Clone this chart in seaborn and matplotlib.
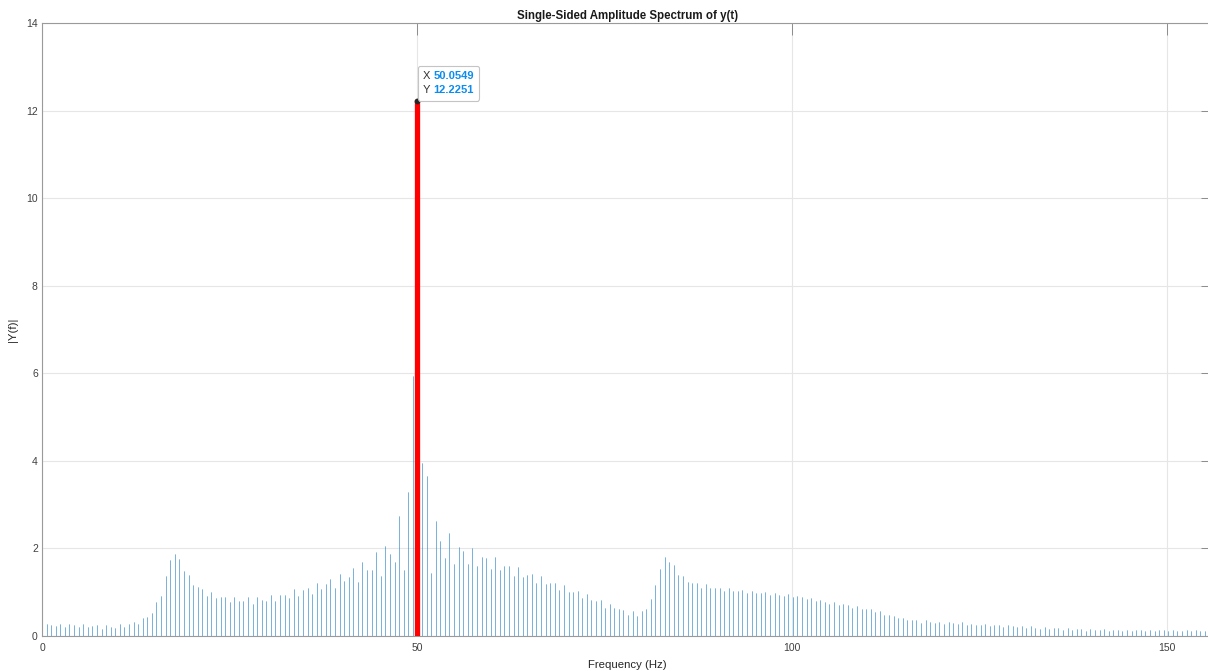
import numpy as np
import pandas as pd
import matplotlib
matplotlib.use("Agg")
import matplotlib.pyplot as plt
import seaborn as sns
from matplotlib.offsetbox import TextArea, HPacker, VPacker, AnnotationBbox

# Single-sided amplitude spectrum |Y(f)|, one value per FFT bin (bins 0..254)
peak_freq = 50.0549
peak_amp = 12.2251
bin_width = peak_freq / 82

amplitude = [
    0.20, 0.28, 0.25, 0.23, 0.28, 0.20, 0.27, 0.25, 0.20, 0.27,
    0.20, 0.23, 0.25, 0.16, 0.25, 0.21, 0.18, 0.27, 0.21, 0.27,
    0.32, 0.28, 0.42, 0.44, 0.53, 0.77, 0.92, 1.37, 1.73, 1.87,
    1.75, 1.49, 1.40, 1.16, 1.13, 1.07, 0.92, 1.00, 0.86, 0.88,
    0.89, 0.77,
    0.88, 0.80, 0.80, 0.88, 0.74, 0.88, 0.82, 0.80,
    0.94, 0.80, 0.94, 0.94, 0.86, 1.07, 0.91, 1.05, 1.09, 0.97,
    1.22, 1.07, 1.18, 1.30, 1.10, 1.42, 1.26, 1.34, 1.56, 1.23,
    1.68, 1.50, 1.50, 1.91, 1.38, 2.05, 1.88, 1.68, 2.74, 1.50,
    3.28, 5.94,
    12.2251,
    3.95, 3.66, 1.45, 2.62, 2.18, 1.78, 2.36,
    1.64, 2.03, 1.94, 1.64, 2.02, 1.60, 1.80, 1.77, 1.53, 1.80,
    1.51, 1.60, 1.60, 1.38, 1.58, 1.35, 1.39, 1.42, 1.22, 1.37,
    1.18, 1.20, 1.22, 1.04, 1.16, 1.01, 1.00, 1.02, 0.86, 0.96,
    0.82, 0.80,
    0.82, 0.65, 0.74, 0.63, 0.61, 0.60, 0.48, 0.58, 0.46,
    0.58, 0.61, 0.84, 1.16, 1.54, 1.80, 1.70, 1.62, 1.39, 1.37,
    1.24, 1.20, 1.20, 1.10, 1.18, 1.09, 1.09, 1.09, 1.02, 1.09,
    1.03, 1.03, 1.06, 0.98, 1.03, 0.98, 0.98, 1.01, 0.93, 0.98,
    0.93,
    0.91, 0.95, 0.88, 0.91, 0.88, 0.84, 0.87, 0.79,
    0.82, 0.78, 0.74, 0.78, 0.70, 0.72, 0.70, 0.65, 0.68, 0.61,
    0.61, 0.61, 0.54, 0.56, 0.49, 0.49, 0.46, 0.40, 0.42, 0.36,
    0.36, 0.36, 0.30, 0.36, 0.32, 0.30, 0.33, 0.27, 0.32, 0.30,
    0.27, 0.32, 0.26, 0.27, 0.26,
    0.25, 0.27, 0.23, 0.24, 0.25, 0.21, 0.25, 0.23, 0.21, 0.23,
    0.18, 0.22, 0.18, 0.16, 0.21, 0.16, 0.18, 0.18, 0.14, 0.18,
    0.14, 0.16, 0.16, 0.12, 0.16, 0.14, 0.14, 0.16, 0.11, 0.14,
    0.14, 0.11, 0.14, 0.11, 0.14, 0.14, 0.11, 0.14, 0.11, 0.14,
    0.14, 0.12, 0.14, 0.11, 0.12, 0.14, 0.11, 0.14, 0.12, 0.12,
]

x_ticks = [0, 50, 100, 150]
y_ticks = [0, 2, 4, 6, 8, 10, 12, 14]

# Each stem is a two-point vertical segment from 0 up to the bin amplitude
bins = np.arange(len(amplitude))
freq = bins * bin_width
stems = pd.DataFrame({
    "bin": np.repeat(bins, 2),
    "f": np.repeat(freq, 2),
    "amp": np.column_stack([np.zeros(len(amplitude)), amplitude]).ravel(),
})
peak = pd.DataFrame({"f": [peak_freq, peak_freq], "amp": [0.0, peak_amp]})

sns.set_theme(style="white")
plt.rcParams["font.family"] = ["Liberation Sans", "DejaVu Sans"]

W, H = 1208, 671
fig = plt.figure(figsize=(W / 100, H / 100), dpi=100)
# the plotting box runs slightly past the right edge of the canvas
ax = fig.add_axes([42 / W, 35 / H, (1213 - 42) / W, 613 / H])

sns.lineplot(data=stems, x="f", y="amp", units="bin", estimator=None, sort=False,
             color="#1477C2", linewidth=0.4, ax=ax, legend=False)
sns.lineplot(data=peak, x="f", y="amp", estimator=None, sort=False,
             color="#FF0000", linewidth=3.8, ax=ax, legend=False, zorder=5)
ax.plot([peak_freq], [peak_amp], marker="o", markersize=3.2,
        color="#262626", zorder=6)

ax.set_xlim(0, 156.13)
ax.set_ylim(0, 14)
ax.set_xticks(x_ticks)
ax.set_yticks(y_ticks)
ax.grid(True, color="#e6e6e6", linewidth=0.8)
ax.set_axisbelow(True)
for side in ax.spines.values():
    side.set_color("#9a9a9a")
    side.set_linewidth(0.8)
ax.tick_params(direction="in", length=8.4, width=0.7, color="#8c8c8c",
               top=True, right=True, labelsize=7.5, labelcolor="#404040")
ax.tick_params(axis="x", pad=5)
ax.tick_params(axis="y", pad=3)

ax.set_title("Single-Sided Amplitude Spectrum of y(t)", fontsize=8.3,
             fontweight="bold", color="#1a1a1a", pad=3)
ax.set_xlabel("Frequency (Hz)", fontsize=8.2, color="#262626", labelpad=5)
ax.set_ylabel("|Y(f)|", fontsize=8.2, color="#262626", labelpad=6)

# Data tip on the spectral peak
blue = "#0a8cf0"
dark = "#333333"
row_x = HPacker(children=[TextArea("X", textprops=dict(color=dark, size=8)),
                          TextArea(f"{peak_freq:.4f}", textprops=dict(color=blue, size=8, weight="bold"))],
                pad=0, sep=2)
row_y = HPacker(children=[TextArea("Y", textprops=dict(color=dark, size=8)),
                          TextArea(f"{peak_amp:.4f}", textprops=dict(color=blue, size=8, weight="bold"))],
                pad=0, sep=2)
tip = VPacker(children=[row_x, row_y], pad=0, sep=3)
ab = AnnotationBbox(tip, (peak_freq, peak_amp), xybox=(4.0, 4.0), xycoords="data",
                    boxcoords="offset points", box_alignment=(0, 0), pad=0.35,
                    bboxprops=dict(boxstyle="round,pad=0.35,rounding_size=0.15",
                                   fc="white", ec="#c4c4c4", lw=0.8),
                    zorder=7)
ax.add_artist(ab)

fig.savefig("out.png", dpi=100)
